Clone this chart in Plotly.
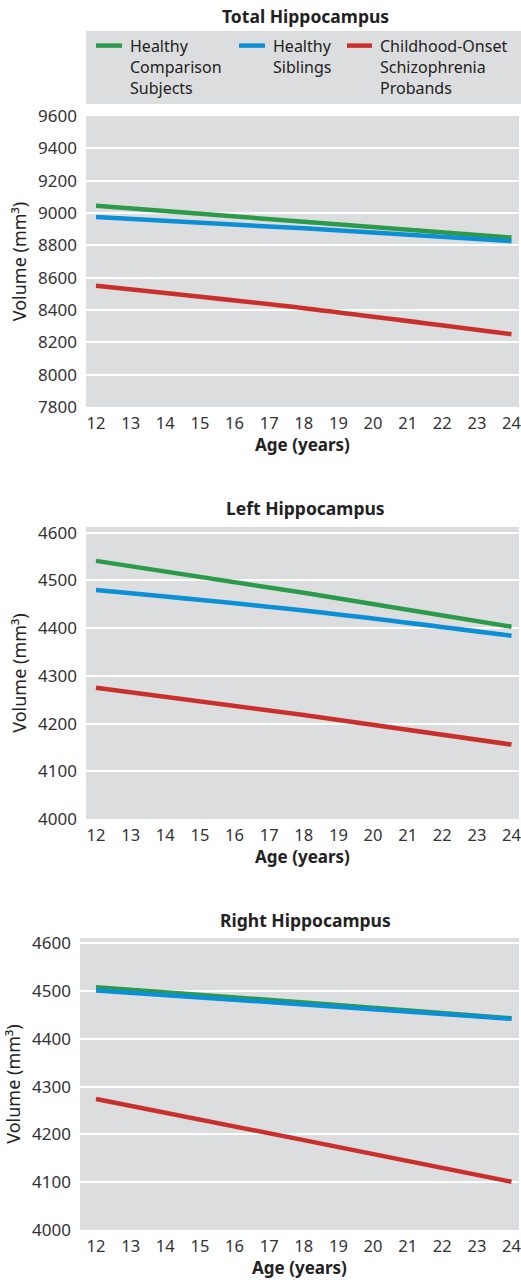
import plotly.graph_objects as go

# ---------------- data ----------------
ages = [12, 18, 24]
series_names = ["Healthy<br>Comparison<br>Subjects", "Healthy<br>Siblings",
                "Childhood-Onset<br>Schizophrenia<br>Probands"]
series_colors = ["#2b9a4a", "#0b8fd5", "#c9302b"]

total_healthy = [9045, 8946, 8848]
total_siblings = [8975, 8905, 8826]
total_cos = [8550, 8411, 8250]

left_healthy = [4541, 4474, 4403]
left_siblings = [4480, 4437, 4384]
left_cos = [4275, 4218, 4156]

right_healthy = [4508, 4476, 4443]
right_siblings = [4501, 4472, 4442]
right_cos = [4274, 4188, 4101]

panel_titles = ["Total Hippocampus", "Left Hippocampus", "Right Hippocampus"]
x_ticks = list(range(12, 25))
y_ticks_total = list(range(7800, 9601, 200))
y_ticks_side = list(range(4000, 4601, 100))

# ---------------- layout geometry (pixels) ----------------
W, H = 521, 1284
FONT = "Noto Sans"
TXT = "#333333"
DARK = "#222222"
BG = "#dcdddf"

def py(px):
    return 1 - px / H

def pxx(px):
    return px / W

panels = [
    dict(data=[total_healthy, total_siblings, total_cos], top=116, bot=407,
         left=86, yr=[7800, 9600], yt=y_ticks_total, title_y=16),
    dict(data=[left_healthy, left_siblings, left_cos], top=527, bot=819,
         left=86, yr=[4000, 4612], yt=y_ticks_side, title_y=508),
    dict(data=[right_healthy, right_siblings, right_cos], top=938, bot=1230,
         left=80, yr=[4000, 4611], yt=y_ticks_side, title_y=920),
]
RIGHT = 519
X12, X24 = 96, 511.5
px_per_year = (X24 - X12) / 12.0

fig = go.Figure()
annotations = []
shapes = []

for i, p in enumerate(panels):
    n = "" if i == 0 else str(i + 1)
    xa = "x" + n
    ya = "y" + n
    for vals, name, col in zip(p["data"], series_names, series_colors):
        fig.add_trace(go.Scatter(
            x=ages, y=vals, mode="lines", name=name.replace("<br>", " "),
            line=dict(color=col, width=4.5, shape="spline"),
            xaxis=xa, yaxis=ya, showlegend=False, hoverinfo="skip",
        ))
    x0 = 12 - (X12 - p["left"]) / px_per_year
    x1 = 24 + (RIGHT - X24) / px_per_year
    fig.layout["xaxis" + n] = dict(
        domain=[pxx(p["left"]), pxx(RIGHT)], range=[x0, x1], anchor=ya,
        tickvals=x_ticks, showgrid=False, zeroline=False, showline=False,
        ticks="", ticklabelstandoff=4, automargin=False, ticklabeloverflow="allow",
        tickfont=dict(family=FONT, size=16.5, color=TXT),
        title=dict(text="<b>Age (years)</b>", standoff=6,
                   font=dict(family=FONT, size=17, color=DARK)),
    )
    fig.layout["yaxis" + n] = dict(
        domain=[py(p["bot"]), py(p["top"])], range=p["yr"], anchor=xa,
        tickvals=p["yt"], showgrid=True, gridcolor="white", gridwidth=1.5,
        zeroline=False, showline=False, ticks="", ticklabelstandoff=8,
        automargin=False, ticklabeloverflow="allow",
        tickfont=dict(family=FONT, size=17, color=TXT),
        title=dict(text="Volume (mm³)", standoff=6,
                   font=dict(family=FONT, size=18, color=DARK)),
    )
    shapes.append(dict(type="rect", xref="paper", yref="paper",
                       x0=pxx(p["left"]), x1=pxx(RIGHT), y0=py(p["bot"]), y1=py(p["top"]),
                       fillcolor=BG, line=dict(width=0), layer="below"))
    annotations.append(dict(text="<b>" + panel_titles[i] + "</b>", xref="paper", yref="paper",
                            x=pxx(305), y=py(p["title_y"]), xanchor="center", yanchor="middle",
                            showarrow=False, font=dict(family=FONT, size=17.5, color=DARK)))

# legend box (custom key)
shapes.append(dict(type="rect", xref="paper", yref="paper",
                   x0=pxx(86), x1=pxx(521), y0=py(104), y1=py(31),
                   fillcolor=BG, line=dict(width=0), layer="below"))
leg_line_x = [(96, 122), (239, 265), (347, 372)]
leg_text_x = [128, 271, 378]
leg_text_cy = [66.7, 56.2, 66.7]
for (lx0, lx1), tx, cy, name, col in zip(leg_line_x, leg_text_x, leg_text_cy,
                                         series_names, series_colors):
    shapes.append(dict(type="line", xref="paper", yref="paper",
                       x0=pxx(lx0), x1=pxx(lx1), y0=py(45.6), y1=py(45.6),
                       line=dict(color=col, width=4.5)))
    annotations.append(dict(text=name, xref="paper", yref="paper", x=pxx(tx), y=py(cy),
                            xanchor="left", yanchor="middle", align="left", showarrow=False,
                            font=dict(family=FONT, size=16, color=DARK)))

fig.update_layout(
    width=W, height=H, margin=dict(l=0, r=0, t=0, b=0, autoexpand=False),
    paper_bgcolor="white", plot_bgcolor=BG,
    shapes=shapes, annotations=annotations, showlegend=False,
)

fig.write_html("out.html", config={"displayModeBar": False})

# remove the default page margin so the figure fills the window exactly
with open("out.html", "r", encoding="utf-8") as f:
    html = f.read()
html = html.replace("<head>", "<head><style>html,body{margin:0;padding:0;overflow:hidden;}</style>", 1)
with open("out.html", "w", encoding="utf-8") as f:
    f.write(html)
